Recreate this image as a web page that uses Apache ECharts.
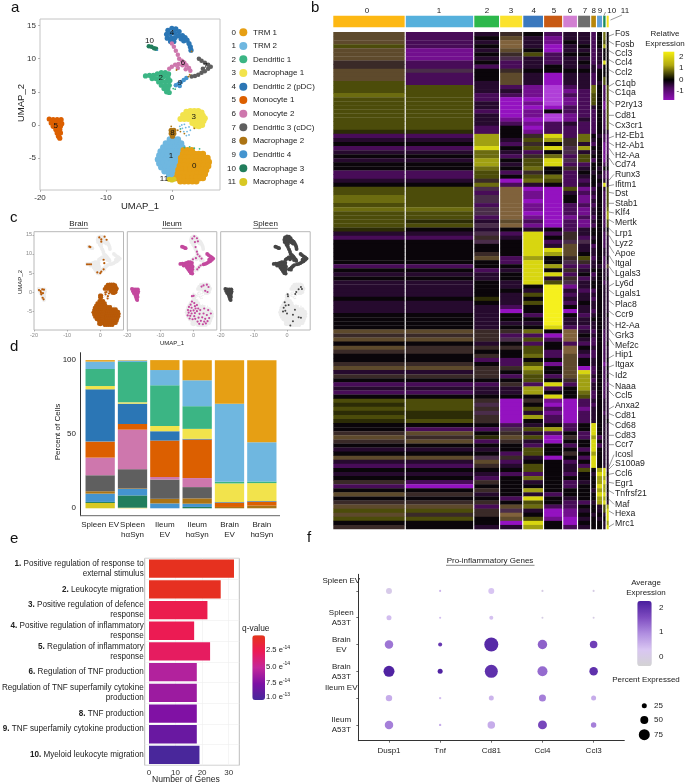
<!DOCTYPE html>
<html><head><meta charset="utf-8">
<style>html,body{margin:0;padding:0;background:#fff}#c{width:685px;height:784px}</style>
<script src="https://cdn.jsdelivr.net/npm/echarts@6/dist/echarts.min.js"></script>
</head><body><div id="c"></div><script>
const FONT='"Liberation Sans",Arial,sans-serif';
const clusterColors=['#E69F14','#6FB7E0','#3BB584','#F2E34C','#2B76B5','#DC5F00','#CE77AD','#5F5F5F','#AC7414','#4494CF','#217E5C','#D8C824'];
const clusterNames=['TRM 1','TRM 2','Dendritic 1','Macrophage 1','Dendritic 2 (pDC)','Monocyte 1','Monocyte 2','Dendritic 3 (cDC)','Macrophage 2','Dendritic 4','Macrophage 3','Macrophage 4'];
// UMAP points per cluster
const umap0=[[1.8,-3.8],[2.4,-3.8],[3,-3.8],[1.7,-4.4],[2.3,-4.4],[2.9,-4.4],[3.5,-4.4],[4.1,-4.4],[4.7,-4.4],[1.4,-5],[2,-5],[2.6,-5],[3.2,-5],[3.8,-5],[4.4,-5],[5,-5],[5.4,-5],[1.4,-5.6],[2,-5.6],[2.6,-5.6],[3.2,-5.6],[3.8,-5.6],[4.4,-5.6],[5,-5.6],[5.6,-5.6],[1.2,-6.2],[1.8,-6.2],[2.4,-6.2],[3,-6.2],[3.6,-6.2],[4.2,-6.2],[4.8,-6.2],[5.5,-6.2],[1,-6.8],[1.6,-6.8],[2.2,-6.8],[2.8,-6.8],[3.4,-6.8],[4,-6.8],[4.6,-6.8],[5.2,-6.8],[0.9,-7.4],[1.5,-7.4],[2.1,-7.4],[2.7,-7.4],[3.3,-7.4],[3.9,-7.4],[4.5,-7.4],[5,-7.4],[0.7,-8],[1.3,-8],[1.9,-8],[2.5,-8],[3.1,-8],[3.7,-8],[4.3,-8],[4.7,-8],[1.3,-8.5],[1.9,-8.5],[2.5,-8.5],[3.1,-8.5],[3.7,-8.5]];
const umap1=[[-0.3,-2.2],[0.3,-2.2],[0.9,-2.2],[-0.9,-2.8],[-0.3,-2.8],[0.3,-2.8],[0.9,-2.8],[1.4,-2.8],[-1.3,-3.4],[-0.7,-3.4],[-0.1,-3.4],[0.5,-3.4],[1.1,-3.4],[1.6,-3.4],[-1.7,-4],[-1.1,-4],[-0.5,-4],[0.1,-4],[0.7,-4],[1.3,-4],[-1.9,-4.6],[-1.3,-4.6],[-0.7,-4.6],[-0.1,-4.6],[0.5,-4.6],[1.1,-4.6],[-2.1,-5.2],[-1.5,-5.2],[-0.9,-5.2],[-0.3,-5.2],[0.3,-5.2],[0.9,-5.2],[-1.9,-5.8],[-1.3,-5.8],[-0.7,-5.8],[-0.1,-5.8],[0.5,-5.8],[0.9,-5.8],[-1.6,-6.4],[-1,-6.4],[-0.4,-6.4],[0.2,-6.4],[0.7,-6.4],[-1.1,-7],[-0.5,-7],[0.1,-7],[0.6,-7],[-0.4,-7.6],[0.2,-7.6],[0.6,-7.6]];
const umap2=[[-4,7.4],[-3.4,7.5],[-2.8,7.5],[-2.2,7.7],[-1.6,7.9],[-1,7.9],[-0.5,7.7],[-3,7],[-2.4,7],[-1.8,7.2],[-1.2,7.3],[-0.6,7.2],[-2,6.5],[-1.4,6.6],[-0.8,6.6],[-0.3,6.7],[-1.6,6],[-1,6],[-0.4,6],[-1.2,5.5],[-0.6,5.5],[-0.8,5],[-0.4,4.9]];
const umap3=[[2.2,2],[2.8,2.1],[3.4,2.1],[4,2.1],[4.5,1.9],[1.7,1.5],[2.3,1.5],[2.9,1.5],[3.5,1.5],[4.1,1.5],[4.7,1.4],[5,1],[1.3,0.9],[1.9,0.9],[2.5,0.9],[3.1,0.9],[3.7,0.9],[4.3,0.9],[4.8,0.6],[3.1,0.3],[3.7,0.3],[4.3,0.3],[3.6,-0.1],[4.1,-0.2],[4.6,0]];
const umap4=[[-0.6,14.3],[0,14.6],[0.6,14.5],[1.1,14.1],[-0.8,13.7],[-0.2,13.8],[0.4,13.9],[1,13.5],[1.6,13.5],[-0.7,13.1],[-0.1,13.1],[0.5,13.2],[-0.2,12.6],[0.3,12.6],[1.4,13],[1.8,12.7],[2,13.2],[2.3,12.8],[2.6,12.3],[2.8,11.8],[2.9,11.3]];
const umap5=[[-18.6,0.9],[-18,0.8],[-17.4,0.8],[-16.8,0.8],[-18.3,0.3],[-17.7,0.3],[-17.1,0.3],[-16.7,0.2],[-18,-0.2],[-17.4,-0.2],[-16.9,-0.2],[-17.6,-0.7],[-17,-0.7],[-17.4,-1.2],[-16.9,-1.2],[-17.2,-1.7],[-17,-2]];
const umap6=[[0,12.3],[0.3,11.8],[0.6,11.2],[0.9,10.6],[1.1,10],[1.5,9.7],[1.9,9.4],[2.2,9],[2.6,8.6],[2.8,8.2],[1,9.2],[0.5,9.1],[0,8.8],[-0.4,8.5],[1.6,9],[2.1,8.4],[0.9,8.6]];
const umap7=[[3,7.3],[3.5,7.4],[4,7.6],[4.5,7.9],[5,8.1],[5.5,8.5],[5.9,8.8],[5.5,9.1],[5,9.4],[4.5,9.7],[4.1,10],[4.7,8.5]];
const umap8=[[-0.1,-0.8],[0.3,-0.8],[-0.1,-1.3],[0.3,-1.3],[0.1,-1.7]];
const umap9=[[0.6,6],[1,6.2],[1.4,6.5],[1.8,6.8],[2.2,7.1],[1.2,5.9]];
const umap10=[[-3.5,11.9],[-3.1,11.8],[-2.7,11.6],[-2.4,11.5]];
const umap11=[[-0.4,-8.2],[0,-8.3],[0.3,-8.2]];
const umapCore=[umap0,umap1,umap2,umap3,umap4,umap5,umap6,umap7,umap8,umap9,umap10,umap11];
const umapStray=[[1.5,0,1],[1.9,0.1,1],[1.6,-0.5,1],[2.1,-0.4,1],[2.6,-0.3,1],[1.8,-1,1],[2.3,-1,1],[2.8,-0.8,1],[2.2,-1.6,1],[2.6,-1.5,1],[1.2,-0.2,1],[-0.1,-0.2,8],[0.9,-0.8,8],[1.3,-1,8],[1.9,-1.3,8],[3.4,-0.5,8],[1.9,-3.4,2],[2.7,-3.3,2],[3.4,-3.5,2],[4.2,-3.6,2],[0.2,5.5,2],[0.5,5.4,2],[2.5,7.3,8],[2.7,7.6,8],[0.7,8.3,8],[-0.1,12.2,6],[3,11.1,8],[-2.2,11.3,9],[1.3,-0.6,2]];
const umapLabels=[['0',3.4,-6.1],['1',-0.15,-4.6],['2',-1.7,7.1],['3',3.3,1.2],['4',0,13.9],['5',-17.6,-0.1],['6',1.7,9.4],['7',5.1,8.9],['8',0.1,-1.15],['9',1.2,6.3],['10',-3.4,12.7],['11',-1.2,-8.2]];
const brainClusters=[0,1,3,8,11];
const ileumClusters=[5,2,7,10];
const spleenClusters=[4,6,2,7,9,10,5];
const brainSparse=[[-0.3,14.3],[0.3,13.8],[1.3,14.5],[1.9,13.7],[0.3,13.2],[-3.3,11.9],[-3,11.8],[-4,7.3],[-3.4,7.3],[-2.8,7.3],[1,8.5],[1.2,7.6],[-0.9,5.2],[0,5],[0.3,5.4],[1,6],[-18.5,0.6],[-18,0.3],[-17.5,0.8],[-17,0.7],[-17.9,-0.1],[-17.3,-0.2],[-17.8,-0.5],[-17.4,-1.4],[-17.1,-1.8],[1.5,0],[1.9,0.1],[1.6,-0.5],[2.6,-0.3],[2.3,-1],[2.2,-1.6]];
const ileumSparse=[[0.2,14.6],[-0.4,14],[1,14.1],[1.3,13.3],[0.4,13.1],[0.6,11.8],[1,10.6],[1.2,9.9],[1.8,9.4],[2.4,8.8],[0.7,8.9],[-0.2,8.6],[1.1,6],[1.6,6.5],[2.1,7],[3,1.8],[4,2],[4.5,1.4],[3.5,0.4],[4.2,0.1],[2.4,1.5],[-0.5,-1],[0,-0.9],[-0.5,-2.4],[0.2,-2.8],[-0.9,-3.2],[0.4,-3.6],[-1.4,-3.8],[-0.6,-4],[0.6,-4.2],[-1.7,-4.6],[-0.9,-4.8],[0,-4.7],[1,-4.9],[-1.5,-5.3],[-0.6,-5.5],[0.4,-5.4],[-1.8,-6],[-1,-6.1],[0.2,-6.2],[-1.2,-6.8],[-0.3,-7],[0.5,-6.9],[2,-4.6],[3.2,-4.2],[4.4,-4.6],[1.8,-5.6],[3,-5.5],[4,-5.9],[5.2,-5.5],[1.5,-6.6],[2.6,-6.5],[3.5,-6.9],[4.7,-6.7],[1.2,-7.6],[2.2,-7.4],[3.2,-7.6],[4.2,-7.5],[1.7,-8.2],[2.8,-8.3],[3.7,-8.1],[1,-3.3],[1.4,-4.2]];
const spleenSparse=[[2.8,0.1],[3.5,0.8],[4.2,1.4],[4.5,0.9],[2.5,-0.4],[0.3,-1],[0.2,-0.5],[-0.7,-2.6],[-0.4,-3.4],[-1,-4],[-0.5,-4.8],[-1.2,-5],[0,-5.5],[3.5,-6.5],[4.2,-6.6],[1.8,-5.8],[1.8,-7.5],[1,-8.6],[2.4,-4.5],[0.5,-3.3]];
// stacked composition, percent per cluster 0..11
const sampleLabels=['Spleen EV','Spleen\nhαSyn','Ileum\nEV','Ileum\nhαSyn','Brain\nEV','Brain\nhαSyn'];
const spleenEV=[1,5,11.5,2.2,35.3,10.8,11.9,10.8,1.6,5.6,0.7,3.6];
const spleenSyn=[0.3,1,27.2,0.9,13.7,3.8,26.7,13,0.4,4.3,8.3,0.4];
const ileumEV=[6.7,10.3,27.4,3.6,6.3,24.5,1.8,13,3.1,3.3,0,0];
const ileumSyn=[13.5,17.5,15.3,6.7,0.5,26,6.1,7.6,3.6,2.2,0.9,0];
const brainEV=[29.4,52.6,1.1,12.6,0.4,2.9,0,0,0.9,0,0,0];
const brainSyn=[55.3,26.5,1.1,12.1,0.4,2.7,0,0,1.8,0,0,0];
const samples=[spleenEV,spleenSyn,ileumEV,ileumSyn,brainEV,brainSyn];
// enrichment
const goTerms=[['1.','Positive regulation of response to\nexternal stimulus'],['2.','Leukocyte migration'],['3.','Positive regulation of defence\nresponse'],['4.','Positive regulation of inflammatory\nresponse'],['5.','Regulation of inflammatory\nresponse'],['6.','Regulation of TNF production'],['7.','Regulation of TNF superfamily cytokine\nproduction'],['8.','TNF production'],['9.','TNF superfamily cytokine production\n '],['10.','Myeloid leukocyte migration']];
const goCounts=[32,27,22,17,23,18,18,18,18,19];
const goQ=[0.5,0.6,2.5,2.7,3.2,6,6.8,7.8,8.8,10.3];
// dot plot
const dotGenes=['Dusp1','Tnf','Cd81','Ccl4','Ccl3'];
const dotGroups=['Spleen EV\n\n','Spleen\nA53T','Brain\nEV','Brain\nA53T','Ileum EV\n\n','Ileum\nA53T'];
const dotAvg=[[0.1,0.5,0.3,0,0],[0.4,0.4,0.35,0,0],[1.2,1.9,2.1,1.4,1.8],[2.2,2.2,2,1.3,2],[0.6,0.4,0.5,1.1,0.6],[1.1,0.6,0.6,1.7,1.1]];
const dotPct=[[33,1,33,1,1],[25,1,17,0,0],[54,17,100,62,46],[75,25,92,67,54],[37,3,25,42,25],[54,3,46,58,29]];
// heatmap: cluster widths (cells) and rows, one char per cluster
const heatTopColors=['#FDB813','#55B0DC','#2DB84C','#FBE22D','#3A78BE','#C85A14','#D27FD2','#6F6F6F','#B8860B','#5F9FD8','#1C8C5C','#F5E020'];
const clusterSizes=[214,202,74,66,59,54,41,36,14,15,7,6];
const heatPalette={a:'#9412C0',b:'#720F8E',c:'#480C58',d:'#260A2E',e:'#0A050A',f:'#2C2C06',g:'#4C4C0A',h:'#6C6C10',i:'#A0A012',j:'#D8D610',k:'#F5F01E',m:'#5E4A2C',n:'#80623C',p:'#4A2D4A',q:'#3A2A28',r:'#B03FD8'};
const heatRows=[
"mcdqecddcehe","mcemdbddcehe","mcdndbedcege","gcendadeceie","mbdmeaddcdee","mbeqgceecdee","mbdpdcddcdee","qcecdcdecdje","qcccdedddcee","mpeqeeeedeee","mcemdaddceee","mcemdaddcege","gcdmdaddcdge",
"ggdcbrcdhecg","ggddbrbchecg","hgccbrccgecg","ggcaarbcgecg","ggdabrbcgebg","ggdaaaccdebg","ggcabecccecg","ggdabrbccecg","ggdbarbdcecg","ggdcbcdccecg","ggceaccccecg","ffcebccccedd",
"ccieqjchedcc","ddidgiqhdecc","eeicqeqdcebc","ccjegjpieebc","ddhdcepddebc","eehcqhcgeebd","ddiegjpgcebd","eeidgjcceecd","eeheheqdedee","ccgcqecedecc","ccgeghcdedcc","ddqahgcceedd","eehcdecdedjd",
"ggpnaagbcedg","ggcnbadcdecg","hgpnbaebcecg","hgpnaaebdecg","ggcnbacccecg","hhpnbacbdech","ggpnaacbdeci","ggcnbabcceci","gfdmcacbdecg","ggpnbacbcecg","fededecdeede",
"ddpcjcqdeecq","ccqdjeqcdecd","eepejcppeecd","eeeejdmdcecd","eeeejjmddedd","eeqejimededd","eemcieqgcece","eeecjepqdecd","cceejiccddcm","eecdjeqdeedd","dddejjcecedd","eedejdqcdede","ddedjgpdeecd",
"ddedekbdeedd","ddeedkdccedd","ddedgkcddedd","eefdekddcedd","ddedgkcededd","dddcekeddedd","dddaekadcedd","eedeckecdede","eedeekddeedd","eedddkdddedd","eedeejccdedd",
"mmqqhendcecd","qqqccanedecd","mmqpgcndcecd","eedececccece","mqqqgenedecd","qqeegcndcecd","eeqehcmccecd","eecceemedece","qqecgbmedebd","mmqqiemacece",
"ddqehemjcecd","qqqcgcmidece","eeeegeqicecd","cccqcjcidecc","ddddiceidecd","ccddieehcecd","eeeeejegcecd",
"ggqaqbacdedd","fgpaeaaccedd","ggqagcabdedd","ffpadbacdecd","gfqaicacdedd","fgqaecacdede",
"eeecdecejedd","eccpgicejedd","qmeqdcecjedd","mqfmgaqcicdd","qmcqdaeejedd","eeeececejcdd","dddegeecjedd","eeecgeqeiedd","mmpqdaecjedd","ddmceecejedd","ccqdgedcjedd",
"eeeegedgeijd","dddccecedjje","eeceheeeeiid","qcqedecdeijd","caeeeeceejie","eeqeieeediie","mqdedceeejjd","eeecjedeeiie","qqqegeccdijd",
"mmcmhcceedgi","ggqpdabdedgj","mqqneabededj","ggemgbadedej","eeeajeaeeedi","qeddiecdeedj"
];
// gene labels along the heatmap
const geneLabels=['Fos','Fosb','Ccl3','Ccl4','Ccl2','C1qb','C1qa','P2ry13','Cd81','Cx3cr1','H2-Eb1','H2-Ab1','H2-Aa','Cd74','Runx3','Ifitm1','Dst','Stab1','Klf4','Mertk','Lrp1','Lyz2','Apoe','Itgal','Lgals3','Ly6d','Lgals1','Plac8','Ccr9','H2-Aa','Grk3','Mef2c','Hip1','Itgax','Id2','Naaa','Ccl5','Anxa2','Cd81','Cd68','Cd83','Ccr7','Icosl','S100a9','Ccl6','Egr1','Tnfrsf21','Maf','Hexa','Mrc1'];
const geneY=[34,44.3,53.7,62.7,72.7,83.3,92.7,104.3,115.3,125.7,136,145.7,155.3,165,174.3,184.7,193.3,203.3,213,222.7,233.3,243.3,253.3,263.3,273.3,283.3,294,304.7,315,326,335.3,345.3,355,365,376,386.7,396,406,415.7,425.3,435.3,444.7,454.7,464,473.3,483.3,493.7,504.3,514,523.7];
const geneLeaderDy=[2,-3,-3,-3,-3,3,-3,-4,0,-3,2,-3,-7,-7,6,1,-1,0,-1,-3,-5,-8,-8,-8,-7,3,-4,-4,-4,-4,-6,-7,3,2,-3,-3,-5,3,-2,-3,0,0,12,5,1,-1,-3,-5,-3,3];

const grids=[],xAxes=[],yAxes=[],series=[],graphic=[];
function addGrid(g,x,y){grids.push(Object.assign({containLabel:false,outerBoundsMode:'none'},g));const i=grids.length-1;xAxes.push(Object.assign({gridIndex:i},x));yAxes.push(Object.assign({gridIndex:i},y));return i;}
function T(x,y,text,o){o=o||{};graphic.push({type:'text',x,y,rotation:o.rot||0,silent:true,z:50,style:{text,fill:o.color||'#222',font:(o.weight?o.weight+' ':'')+(o.size||8)+'px '+FONT,textAlign:o.align||'left',textVerticalAlign:'middle',rich:o.rich}});}
function L(x1,y1,x2,y2,c,w){graphic.push({type:'line',silent:true,z:50,shape:{x1,y1,x2,y2},style:{stroke:c||'#333',lineWidth:w||0.6}});}
function C(x,y,r,fill){graphic.push({type:'circle',silent:true,z:50,shape:{cx:x,cy:y,r},style:{fill}});}
function umapAxes(size,color,xr,yr,showY){
 const base={type:'value',splitLine:{show:false},axisLine:{show:false,onZero:false},axisTick:{length:size>6?2:1.5,lineStyle:{color:'#888',width:0.6}},axisLabel:{fontSize:size,color,fontFamily:FONT,margin:size>6?4:2}};
 const x=Object.assign({},base,{min:xr[0],max:xr[1]});x.axisLabel=Object.assign({},base.axisLabel,{customValues:[-20,-10,0]});x.axisTick=Object.assign({},base.axisTick,{customValues:[-20,-10,0]});
 const y=Object.assign({},base,{min:yr[0],max:yr[1]});y.axisLabel=Object.assign({},base.axisLabel,{show:showY,customValues:[-5,0,5,10,15]});y.axisTick=Object.assign({},base.axisTick,{show:showY,customValues:[-5,0,5,10,15]});
 return [x,y];
}
function S(g,data,color,size,extra){series.push(Object.assign({type:'scatter',xAxisIndex:g,yAxisIndex:g,data,symbolSize:size,silent:true,itemStyle:{color,opacity:1},emphasis:{disabled:true},animation:false},extra||{}));}
// panel a
{const [x,y]=umapAxes(8,'#333',[-20,7.3],[-9.82,16],true);
 const g=addGrid({left:40,top:19,width:180,height:171,show:true,borderColor:'#c4c4c4',borderWidth:1},x,y);
 [1,0,2,3,4,5,6,7,8,9,10,11].forEach(c=>S(g,umapCore[c],clusterColors[c],c==0||c==1?6.5:c==3?6:(c==7||c==9||c==6||c==10)?4.5:5.2));
 umapStray.forEach(p=>S(g,[[p[0],p[1]]],clusterColors[p[2]],1.8));
 S(g,umapLabels.map(l=>[l[1],l[2],l[0]]),'#000',0,{z:5,label:{show:true,position:'inside',formatter:p=>p.data[2],fontSize:8,color:'#111',fontFamily:FONT}});
 T(21,103,'UMAP_2',{size:9.5,rot:Math.PI/2,align:'center'});T(140,206,'UMAP_1',{size:9.5,align:'center'});
 const ly=[32.3,46,59.3,73,86.7,100,113.7,127.3,140.7,154.3,168.3,182];
 clusterNames.forEach((n,i)=>{T(236,ly[i],String(i),{align:'right'});C(243.3,ly[i],4,clusterColors[i]);T(253,ly[i],n);});
}
// panel c
const cPanels=[['Brain',34,'#B85A08',brainClusters,brainSparse],['Ileum',127.3,'#C4489E',ileumClusters,ileumSparse],['Spleen',220.7,'#454545',spleenClusters,spleenSparse]];
cPanels.forEach((p,pi)=>{const [x,y]=umapAxes(5.5,'#888',[-20,7],[-9.8,15.8],pi==0);
 const g=addGrid({left:p[1],top:231.7,width:89.5,height:98.3,show:true,borderColor:'#b8b8b8',borderWidth:1},x,y);
 umapCore.forEach(d=>S(g,d,'#ECECEC',3.8));
 umapStray.forEach(q=>S(g,[[q[0],q[1]]],'#ECECEC',1.5));
 p[3].forEach(c=>S(g,umapCore[c],p[2],3.8));
 S(g,p[4],p[2],p[0]=='Spleen'?2:2.2);
 const cx=p[1]+44.7;T(cx,224,p[0],{align:'center',size:8});const w=p[0]=='Spleen'?12.5:p[0]=='Brain'?9.5:10;L(cx-w,228.4,cx+w,228.4,'#333',0.6);
});
T(172,343,'UMAP_1',{align:'center',size:6});T(20,282,'UMAP_2',{align:'center',size:6,rot:Math.PI/2});
// panel d
{const g=addGrid({left:84,top:352.7,width:194,height:163},
 {type:'category',data:sampleLabels,axisLine:{show:false,onZero:false},axisTick:{alignWithLabel:true,length:2,lineStyle:{color:'#666',width:0.6}},axisLabel:{interval:0,fontSize:8,lineHeight:10,color:'#222',fontFamily:FONT,margin:4}},
 {type:'value',min:-5,max:105,offset:4,splitLine:{show:false},axisLine:{show:true,onZero:false,lineStyle:{color:'#333',width:1}},axisTick:{customValues:[0,50,100],length:2,lineStyle:{color:'#333',width:0.6}},axisLabel:{customValues:[0,50,100],fontSize:8,color:'#222',fontFamily:FONT,margin:4}});
 for(let c=11;c>=0;c--){series.push({type:'bar',xAxisIndex:g,yAxisIndex:g,stack:'pct',barWidth:29.3,silent:true,animation:false,itemStyle:{color:clusterColors[c]},data:samples.map(s=>s[c])});}
 L(80,515.7,280,515.7,'#666',1);
 T(58,432,'Percent of Cells',{align:'center',size:8,rot:Math.PI/2});
}
// panel e
let eSeries;
{const g=addGrid({left:144.7,top:558.3,width:94.6,height:207,show:true,borderColor:'#bcbcbc',borderWidth:1},
 {type:'value',min:-1.62,max:34,splitLine:{show:true,lineStyle:{color:'#eee',width:0.6}},axisLine:{show:false,onZero:false},axisTick:{customValues:[0,10,20,30],length:2,lineStyle:{color:'#666',width:0.6}},axisLabel:{customValues:[0,10,20,30],fontSize:8,color:'#333',fontFamily:FONT,margin:3}},
 {type:'category',inverse:true,data:goTerms.map(t=>t[1]),splitLine:{show:true,lineStyle:{color:'#eee',width:0.6}},axisLine:{show:false,onZero:false},axisTick:{alignWithLabel:true,length:1.5,lineStyle:{color:'#666',width:0.6}},
  axisLabel:{margin:1,interval:0,lineHeight:10,fontSize:8.15,color:'#222',fontFamily:FONT,align:'right',
   formatter:(v,i)=>{const ls=v.split('\n');return '{b|'+goTerms[i][0]+'} {t|'+ls[0]+'}'+(ls[1]?'\n{t|'+ls[1]+'}':'');},
   rich:{b:{fontWeight:'bold',fontSize:8.15,fontFamily:FONT,color:'#222',lineHeight:10},t:{fontSize:8.15,fontFamily:FONT,color:'#222',lineHeight:10}}}});
 eSeries=series.length;
 series.push({type:'bar',xAxisIndex:g,yAxisIndex:g,barWidth:18.3,silent:true,animation:false,encode:{x:0,y:1},data:goCounts.map((v,i)=>[v,goTerms[i][1],goQ[i]])});
 T(186,780,'Number of Genes',{align:'center',size:8.6});
 T(242,629,'q-value',{size:8.4});
 const ry={a:{fontSize:7.6,fontFamily:FONT,color:'#222'},b:{fontSize:5,fontFamily:FONT,color:'#222',padding:[0,0,5,0]}};
 [['2.5',650],['5.0',666.5],['7.5',683],['1.0',697]].forEach((r,i)=>T(266,r[1],'{a|'+r[0]+' e}{b|'+(i==3?'-13':'-14')+'}',{rich:ry}));
}
// panel f
let fSeries;
{const g=addGrid({left:358.3,top:574.3,width:266,height:166.4},
 {type:'value',min:-0.6,max:4.6,splitLine:{show:false},axisLine:{show:true,onZero:false,lineStyle:{color:'#333',width:1}},axisTick:{customValues:[0,1,2,3,4],length:2,lineStyle:{color:'#333',width:0.7}},axisLabel:{customValues:[0,1,2,3,4],formatter:v=>dotGenes[v],fontSize:8,color:'#222',fontFamily:FONT,margin:6}},
 {type:'value',inverse:true,min:-0.62,max:5.59,splitLine:{show:false},axisLine:{show:true,onZero:false,lineStyle:{color:'#333',width:1}},axisTick:{customValues:[0,1,2,3,4,5],length:2,lineStyle:{color:'#333',width:0.7}},axisLabel:{customValues:[0,1,2,3,4,5],formatter:v=>dotGroups[v],fontSize:8,lineHeight:10,color:'#222',fontFamily:FONT,align:'center',margin:17}});
 const d=[];dotAvg.forEach((r,i)=>r.forEach((v,j)=>d.push([j,i,v,dotPct[i][j]])));
 fSeries=series.length;
 series.push({type:'scatter',xAxisIndex:g,yAxisIndex:g,data:d,silent:true,animation:false,encode:{x:0,y:1},symbolSize:v=>Math.max(1.6,0.12*v[3]+2),itemStyle:{opacity:1}});
 T(490,560.7,'Pro-inflammatory Genes',{align:'center',size:8});L(446,565.3,534.5,565.3,'#333',0.6);
 T(646,583,'Average',{align:'center',size:8});T(646,593,'Expression',{align:'center',size:8});
 [['2',607.7],['1',632],['0',657]].forEach(r=>T(659,r[1],r[0],{size:8}));
 T(646,680,'Percent Expressed',{align:'center',size:8});
 [[25,705.7],[50,720],[75,734.7]].forEach(r=>{C(644.3,r[1],(0.12*r[0]+2)/2,'#000');T(654,r[1],String(r[0]),{size:8});});
}
// panel b
const gapCells=3.45;
const clusterStarts=[];clusterSizes.reduce((a,s,i)=>{clusterStarts[i]=a;return a+s+gapCells;},0);
const heatTotal=clusterStarts[11]+clusterSizes[11];
const hideAxis={show:false};
{const pal=Object.keys(heatPalette);
 const g=addGrid({left:333.3,top:32,width:275.4,height:497},Object.assign({type:'value',min:0,max:heatTotal},hideAxis),Object.assign({type:'value',inverse:true,min:0,max:heatRows.length},hideAxis));
 const d=[];heatRows.forEach((r,ri)=>{for(let c=0;c<12;c++)d.push([c,ri,pal.indexOf(r[c])]);});
 series.push({type:'custom',xAxisIndex:g,yAxisIndex:g,silent:true,animation:false,clip:false,encode:{x:0,y:1},data:d,renderItem:(p,api)=>{const c=api.value(0),r=api.value(1);const a=api.coord([clusterStarts[c],r]),b=api.coord([clusterStarts[c]+clusterSizes[c],r+1]);return {type:'rect',shape:{x:a[0],y:a[1],width:b[0]-a[0],height:b[1]-a[1]+0.3},style:{fill:heatPalette[pal[api.value(2)]]}};}});
 const g2=addGrid({left:333.3,top:15.7,width:275.4,height:11.6},Object.assign({type:'value',min:0,max:heatTotal},hideAxis),Object.assign({type:'value',min:0,max:1},hideAxis));
 series.push({type:'custom',xAxisIndex:g2,yAxisIndex:g2,silent:true,animation:false,clip:false,encode:{x:0},data:clusterSizes.map((s,i)=>[i]),renderItem:(p,api)=>{const c=api.value(0);const a=api.coord([clusterStarts[c],1]),b=api.coord([clusterStarts[c]+clusterSizes[c],0]);return {type:'rect',shape:{x:a[0],y:a[1],width:b[0]-a[0],height:b[1]-a[1]},style:{fill:heatTopColors[c]}};}});
 [367,439,487,511,533.7,554,570,585,593.7,600,611.7,625].forEach((x,i)=>T(x,10.7,String(i),{align:'center',size:8}));
 L(604,15.5,605.5,12,'#333',0.5);L(610.5,20,622,15,'#333',0.5);
 geneLabels.forEach((n,i)=>{T(615,geneY[i],n,{size:8.7});L(609,geneY[i]+geneLeaderDy[i],614,geneY[i],'#333',0.5);});
 T(665,33.7,'Relative',{align:'center',size:8});T(665,43.7,'Expression',{align:'center',size:8});
 graphic.push({type:'rect',silent:true,z:50,shape:{x:663.3,y:51.7,width:11,height:48.3},style:{fill:new echarts.graphic.LinearGradient(0,0,0,1,[{offset:0,color:'#F5EE10'},{offset:0.28,color:'#B0A810'},{offset:0.42,color:'#5A5808'},{offset:0.58,color:'#000'},{offset:0.75,color:'#4C0C60'},{offset:1,color:'#9010B8'}])}});
 [['2',57],['1',68],['0',80],['-1',91]].forEach((r,i)=>T(i==3?676.5:679,r[1],r[0],{size:8}));
}
[['a',11,8],['b',311,8],['c',10,218],['d',10,347],['e',10,539],['f',307,538]].forEach(l=>T(l[1],l[2],l[0],{size:15,color:'#111'}));
const option={animation:false,backgroundColor:'#fff',textStyle:{fontFamily:FONT},grid:grids,xAxis:xAxes,yAxis:yAxes,series,graphic:{elements:graphic},
 visualMap:[
  {type:'continuous',seriesIndex:eSeries,dimension:2,min:0.24,max:10.5,inverse:true,left:252.3,top:635.3,itemWidth:12.7,itemHeight:64.7,padding:0,calculable:false,hoverLink:false,inRange:{color:['#E53419','#EC1A55','#C4289A','#7C10A5','#45299A']}},
  {type:'continuous',seriesIndex:fSeries,dimension:2,min:-0.37,max:2.27,left:637.3,top:601,itemWidth:14.4,itemHeight:65,padding:0,calculable:false,hoverLink:false,inRange:{color:['#D3D3D3','#D9C6F2','#B08EE0','#7E4CC0','#4A1E9E']}}
 ]};
const chart=echarts.init(document.getElementById('c'),null,{renderer:'canvas',width:685,height:784});
chart.setOption(option);
</script></body></html>
